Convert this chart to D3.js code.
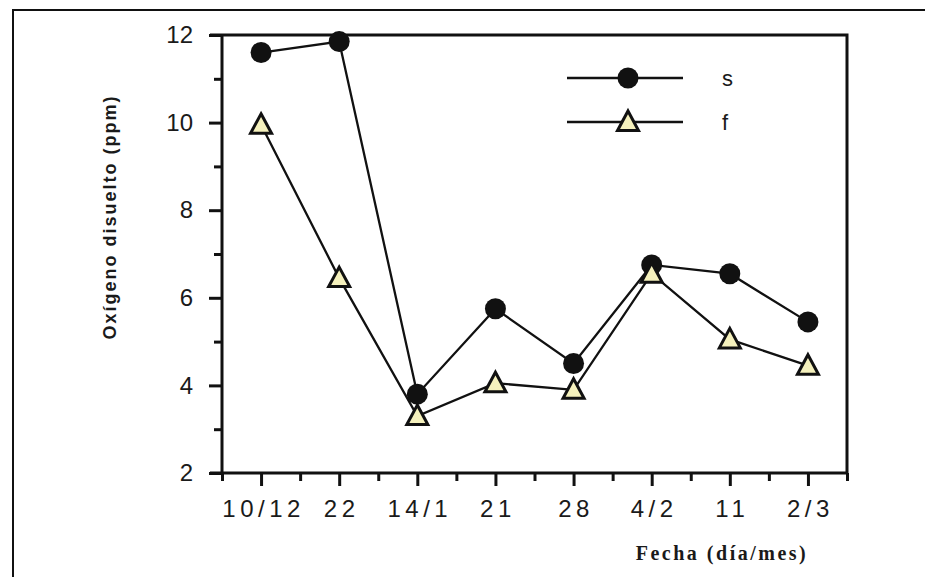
<!DOCTYPE html>
<html>
<head>
<meta charset="utf-8">
<script src="https://cdn.jsdelivr.net/npm/d3@7"></script>
<style>
  body { margin: 0; background: #fff; }
  svg { display: block; }
</style>
</head>
<body>
<svg id="chart"></svg>
<script>
// fechas de muestreo (dia/mes)
const fechas = ['10/12', '22', '14/1', '21', '28', '4/2', '11', '2/3'];
// oxigeno disuelto (ppm)
const serieS = [11.6, 11.85, 3.8, 5.75, 4.5, 6.75, 6.55, 5.45];
const serieF = [9.95, 6.45, 3.3, 4.05, 3.9, 6.55, 5.05, 4.45];
const yMajor = [2, 4, 6, 8, 10, 12];
const yMinor = [3, 5, 7, 9, 11];

const width = 925, height = 577;
const plotL = 222, plotR = 847, plotT = 35, plotB = 473;

const svg = d3.select('#chart')
  .attr('width', width)
  .attr('height', height);

// marco exterior (solo arriba e izquierda)
svg.append('path')
  .attr('d', `M13,577 V10 H925`)
  .attr('fill', 'none')
  .attr('stroke', '#111')
  .attr('stroke-width', 2);

const x = d3.scaleLinear().domain([-0.5, 7.5]).range([plotL, plotR]);
const y = d3.scaleLinear().domain([2, 12]).range([plotB, plotT]);

// eje y
const yAxis = svg.append('g').attr('transform', `translate(${plotL},0)`);
yAxis.call(d3.axisLeft(y).tickValues(yMajor).tickSize(13).tickPadding(16).tickFormat(d3.format('d')));
svg.append('g').attr('transform', `translate(${plotL},0)`)
  .call(d3.axisLeft(y).tickValues(yMinor).tickSize(8).tickFormat(''));

// eje x
const xAxis = svg.append('g').attr('transform', `translate(0,${plotB})`);
xAxis.call(d3.axisBottom(x).tickValues(d3.range(fechas.length)).tickSize(13).tickPadding(14)
  .tickFormat(i => fechas[i]));
svg.append('g').attr('transform', `translate(0,${plotB})`)
  .call(d3.axisBottom(x).tickValues(d3.range(-0.5, fechas.length, 1)).tickSize(8).tickFormat(''));

svg.selectAll('.domain').remove();
svg.selectAll('.tick line').attr('stroke', '#111').attr('stroke-width', 3);
yAxis.selectAll('.tick text')
  .style('font-family', '"Liberation Sans", Arial, sans-serif')
  .style('font-size', '24px')
  .attr('fill', '#1a1a1a');
xAxis.selectAll('.tick text')
  .style('font-family', '"Liberation Sans", Arial, sans-serif')
  .style('font-size', '24px')
  .style('letter-spacing', '4.5px')
  .attr('dx', '2px')
  .attr('fill', '#1a1a1a');

// recuadro del grafico
svg.append('path')
  .attr('d', `M${plotL - 12},${plotT} H${plotR} V${plotB} H${plotL - 12} M${plotL},${plotT} V${plotB}`)
  .attr('fill', 'none')
  .attr('stroke', '#111')
  .attr('stroke-width', 3);

// titulos de ejes
svg.append('text')
  .attr('transform', 'translate(116,217) rotate(-90)')
  .attr('text-anchor', 'middle')
  .style('font-family', '"Liberation Sans", Arial, sans-serif')
  .style('font-weight', 'bold')
  .style('font-size', '18px')
  .style('letter-spacing', '2px')
  .attr('fill', '#1a1a1a')
  .text('Oxígeno disuelto  (ppm)');

svg.append('text')
  .attr('x', 722)
  .attr('y', 560)
  .attr('text-anchor', 'middle')
  .style('font-family', '"Liberation Serif", "Times New Roman", serif')
  .style('font-weight', 'bold')
  .style('font-size', '20px')
  .style('letter-spacing', '2.5px')
  .attr('fill', '#1a1a1a')
  .text('Fecha (día/mes)');

const line = d3.line()
  .x((d, i) => x(i))
  .y(d => y(d));

const triangle = 'M0,-11 L10.5,8.5 L-10.5,8.5 Z';

// serie s
svg.append('path')
  .datum(serieS)
  .attr('d', line)
  .attr('fill', 'none')
  .attr('stroke', '#111')
  .attr('stroke-width', 2.3);
svg.selectAll('circle.s')
  .data(serieS)
  .enter()
  .append('circle')
  .attr('class', 's')
  .attr('cx', (d, i) => x(i))
  .attr('cy', d => y(d))
  .attr('r', 10.5)
  .attr('fill', '#111');

// serie f
svg.append('path')
  .datum(serieF)
  .attr('d', line)
  .attr('fill', 'none')
  .attr('stroke', '#111')
  .attr('stroke-width', 2.3);
svg.selectAll('path.f')
  .data(serieF)
  .enter()
  .append('path')
  .attr('class', 'f')
  .attr('d', triangle)
  .attr('transform', (d, i) => `translate(${x(i)},${y(d)})`)
  .attr('fill', '#f5f1bd')
  .attr('stroke', '#111')
  .attr('stroke-width', 3)
  .attr('stroke-linejoin', 'miter');

// leyenda
const legend = svg.append('g');
const items = [{ key: 's', yPos: 78 }, { key: 'f', yPos: 122 }];
items.forEach(it => {
  legend.append('line')
    .attr('x1', 567).attr('x2', 683)
    .attr('y1', it.yPos).attr('y2', it.yPos)
    .attr('stroke', '#111')
    .attr('stroke-width', 2.3);
  if (it.key === 's') {
    legend.append('circle').attr('cx', 628).attr('cy', it.yPos).attr('r', 10.5).attr('fill', '#111');
  } else {
    legend.append('path').attr('d', triangle)
      .attr('transform', `translate(628,${it.yPos})`)
      .attr('fill', '#f5f1bd').attr('stroke', '#111').attr('stroke-width', 3);
  }
  legend.append('text')
    .attr('x', 722)
    .attr('y', it.yPos + 8)
    .style('font-family', '"Liberation Sans", Arial, sans-serif')
    .style('font-size', '22px')
    .attr('fill', '#1a1a1a')
    .text(it.key);
});
</script>
</body>
</html>
